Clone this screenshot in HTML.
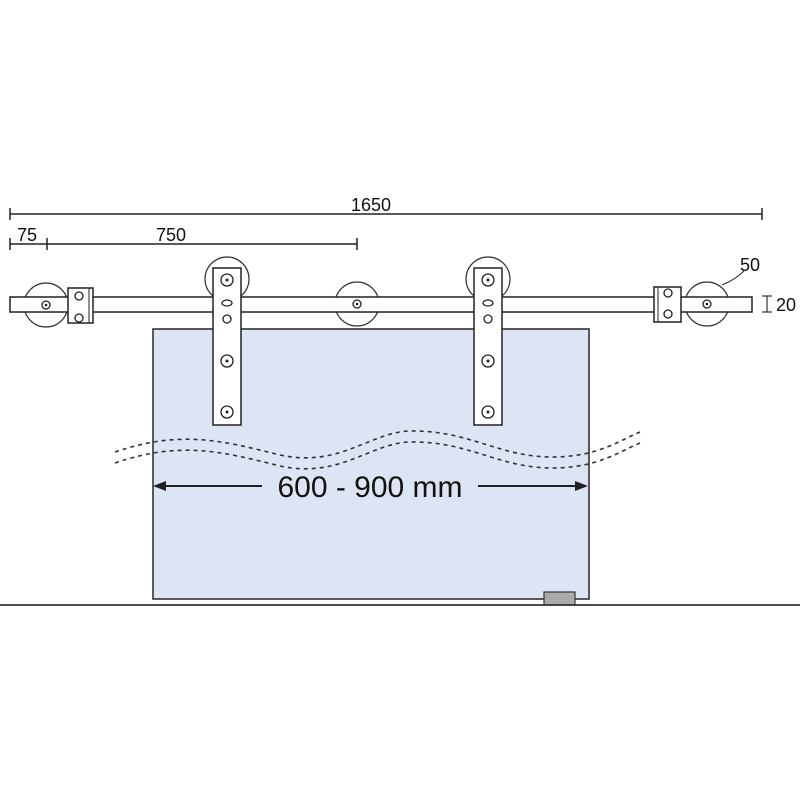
<!DOCTYPE html>
<html><head><meta charset="utf-8"><style>body{margin:0;background:#fff}svg{display:block}text{font-family:"Liberation Sans",sans-serif;fill:#111}</style></head><body>
<svg width="800" height="800" viewBox="0 0 800 800" xmlns="http://www.w3.org/2000/svg">
<g stroke="#222" stroke-width="1.5" fill="none">
<line x1="10" y1="214" x2="762" y2="214"/><line x1="10" y1="208" x2="10" y2="220"/><line x1="762" y1="208" x2="762" y2="220"/>
<line x1="10" y1="244" x2="357" y2="244"/><line x1="10" y1="238" x2="10" y2="250"/><line x1="47" y1="238" x2="47" y2="250"/><line x1="357" y1="238" x2="357" y2="250"/>
</g>
<text x="351" y="211" font-size="18">1650</text>
<text x="17" y="241" font-size="18">75</text>
<text x="156" y="241" font-size="18">750</text>
<text x="740" y="271" font-size="18">50</text>
<text x="776" y="311" font-size="18">20</text>
<g stroke="#333" stroke-width="1.2"><line x1="762" y1="296" x2="772" y2="296"/><line x1="762" y1="312" x2="772" y2="312"/><line x1="767" y1="296" x2="767" y2="312"/><path d="M722 285 Q735 280 745 270" fill="none"/></g>
<!-- door -->
<rect x="153" y="329" width="436" height="270" fill="#dde5f4" stroke="#333" stroke-width="1.6"/>
<rect x="544" y="592" width="31" height="13" fill="#aaa" stroke="#333" stroke-width="1.2"/>
<line x1="0" y1="605" x2="800" y2="605" stroke="#333" stroke-width="1.8"/>
<!-- waves -->
<g stroke="#333" stroke-width="1.6" fill="none" stroke-dasharray="4 4">
<path d="M115 452 C180 430 220 440 280 455 C340 468 370 432 410 431 C470 430 500 458 555 457 C600 456 620 440 640 432"/>
<path d="M115 463 C180 441 220 451 280 466 C340 479 370 443 410 442 C470 441 500 469 555 468 C600 467 620 451 640 443"/>
</g>
<!-- arrow -->
<g stroke="#222" stroke-width="2"><line x1="160" y1="486" x2="262" y2="486"/><line x1="478" y1="486" x2="580" y2="486"/></g>
<polygon points="153,486 166,481 166,491" fill="#222"/><polygon points="588,486 575,481 575,491" fill="#222"/>
<text x="370" y="497" font-size="30" text-anchor="middle">600 - 900 mm</text>
<!-- wheels -->
<g stroke="#333" stroke-width="1.2" fill="#fff">
<circle cx="46" cy="305" r="22"/><circle cx="357" cy="304" r="22"/><circle cx="707" cy="304" r="22"/>
<circle cx="227" cy="279" r="22"/><circle cx="488" cy="279" r="22"/>
</g>
<rect x="10" y="297" width="742" height="15" fill="#fff" stroke="#222" stroke-width="1.5"/>
<g stroke="#333" stroke-width="1.2" fill="none"><path d="M24 297 A22 22 0 0 1 68 297" stroke="none"/></g>
<!-- clamps -->
<g stroke="#222" stroke-width="1.5" fill="#fff">
<rect x="68" y="288" width="25" height="35"/><rect x="654" y="287" width="27" height="35"/>
<rect x="213" y="268" width="28" height="157"/><rect x="474" y="268" width="28" height="157"/>
</g>
<g stroke="#222" stroke-width="1" fill="none"><line x1="89" y1="288" x2="89" y2="323"/><line x1="658" y1="287" x2="658" y2="322"/></g>
<g stroke="#222" stroke-width="1.3" fill="#fff">
<circle cx="46" cy="305" r="4"/><circle cx="357" cy="304" r="4"/><circle cx="707" cy="304" r="4"/>
<circle cx="79" cy="296" r="4"/><circle cx="79" cy="318" r="4"/><circle cx="668" cy="293" r="4"/><circle cx="668" cy="314" r="4"/>
<circle cx="227" cy="280" r="6"/><circle cx="227" cy="319" r="4"/><circle cx="227" cy="361" r="6"/><circle cx="227" cy="412" r="6"/>
<circle cx="488" cy="280" r="6"/><circle cx="488" cy="319" r="4"/><circle cx="488" cy="361" r="6"/><circle cx="488" cy="412" r="6"/>
<ellipse cx="227" cy="303" rx="5" ry="3"/><ellipse cx="488" cy="303" rx="5" ry="3"/>
</g>
<g fill="#222"><circle cx="227" cy="280" r="1.5"/><circle cx="227" cy="361" r="1.5"/><circle cx="227" cy="412" r="1.5"/><circle cx="488" cy="280" r="1.5"/><circle cx="488" cy="361" r="1.5"/><circle cx="488" cy="412" r="1.5"/><circle cx="46" cy="305" r="1.3"/><circle cx="357" cy="304" r="1.3"/><circle cx="707" cy="304" r="1.3"/></g>
</svg>
</body></html>
